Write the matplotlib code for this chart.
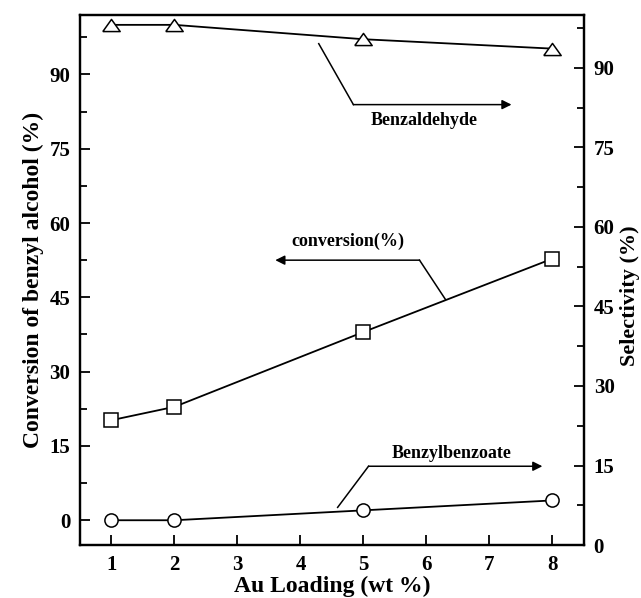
import matplotlib
matplotlib.use("Agg")
import matplotlib.pyplot as plt
from matplotlib.ticker import MultipleLocator
import numpy as np

# Data
au_loading = [1, 2, 5, 8]
conversion = [20.2, 22.9, 38.0, 52.8]
sel_benzaldehyde = [100.0, 100.0, 97.1, 95.2]
sel_benzylbenzoate = [0.0, 0.0, 2.0, 4.0]
x_ticks = [1, 2, 3, 4, 5, 6, 7, 8]
left_ticks = [0, 15, 30, 45, 60, 75, 90]
right_ticks = [0, 15, 30, 45, 60, 75, 90]

plt.rcParams['font.family'] = ['Liberation Serif', 'DejaVu Serif']
plt.rcParams['font.weight'] = 'bold'

fig = plt.figure(figsize=(6.41, 5.98), dpi=100)
ax = fig.add_axes([0.1248, 0.0886, 0.7862, 0.8864])
ax2 = ax.twinx()

tri = [(-1, -0.7), (1, -0.7), (0, 0.7), (-1, -0.7)]
lw = 1.3
ax.plot(au_loading, sel_benzaldehyde, color='black', lw=lw, marker=tri,
        markersize=12.5, markerfacecolor='white', markeredgecolor='black', markeredgewidth=1.1, zorder=3)
ax.plot(au_loading, conversion, color='black', lw=lw, marker='s',
        markersize=9.5, markerfacecolor='white', markeredgecolor='black', markeredgewidth=1.1, zorder=3)
ax.plot(au_loading, sel_benzylbenzoate, color='black', lw=lw, marker='o',
        markersize=9.5, markerfacecolor='white', markeredgecolor='black', markeredgewidth=1.1, zorder=3)

ax.set_xlim(0.5, 8.5)
ax.set_ylim(-5, 102)
ax2.set_ylim(0, 100)

ax.set_xticks(x_ticks)
ax.set_xticklabels([str(v) for v in x_ticks])
ax.set_yticks(left_ticks)
ax.set_yticklabels([str(v) for v in left_ticks])
ax.yaxis.set_minor_locator(MultipleLocator(7.5))
ax2.set_yticks(right_ticks)
ax2.set_yticklabels([str(v) for v in right_ticks])
ax2.yaxis.set_minor_locator(MultipleLocator(7.5))

for a in (ax, ax2):
    for s in a.spines.values():
        s.set_linewidth(1.6)
ax.tick_params(axis='both', which='major', direction='in', length=7, width=1.3, labelsize=15, pad=7)
ax.tick_params(axis='y', which='minor', direction='in', length=5, width=1.3)
ax.tick_params(axis='x', which='both', top=False)
ax.tick_params(axis='y', which='both', right=False)
ax2.tick_params(axis='y', which='major', direction='in', length=7, width=1.3, labelsize=15, pad=7)
ax2.tick_params(axis='y', which='minor', direction='in', length=5, width=1.3)

for lab in ax.get_xticklabels() + ax.get_yticklabels() + ax2.get_yticklabels():
    lab.set_fontweight('bold')

ax.set_xlabel('Au Loading (wt %)', fontsize=17, fontweight='bold', labelpad=1)
ax.set_ylabel('Conversion of benzyl alcohol (%)', fontsize=17, fontweight='bold', labelpad=4)
ax2.set_ylabel('Selectivity (%)', fontsize=16, fontweight='bold', labelpad=4)
ax2.yaxis.set_label_coords(1.072, 0.47)

arrow_kw = dict(arrowstyle='-|>', color='black', lw=1.1, mutation_scale=14,
                shrinkA=0, shrinkB=0)
# Benzaldehyde
ax.plot([4.29, 4.84], [96.2, 83.9], color='black', lw=1.1)
ax.annotate('', xy=(7.35, 83.9), xytext=(4.84, 83.9), arrowprops=arrow_kw)
ax.text(5.97, 80.7, 'Benzaldehyde', fontsize=13, fontweight='bold', ha='center', va='center')
# conversion
ax.plot([5.89, 6.30], [52.5, 44.6], color='black', lw=1.1)
ax.annotate('', xy=(3.60, 52.5), xytext=(5.89, 52.5), arrowprops=arrow_kw)
ax.text(4.75, 56.3, 'conversion(%)', fontsize=13, fontweight='bold', ha='center', va='center')
# Benzylbenzoate
ax.plot([4.59, 5.08], [2.6, 10.9], color='black', lw=1.1)
ax.annotate('', xy=(7.84, 10.9), xytext=(5.08, 10.9), arrowprops=arrow_kw)
ax.text(6.40, 13.5, 'Benzylbenzoate', fontsize=13, fontweight='bold', ha='center', va='center')

fig.savefig('out.png', dpi=100)
